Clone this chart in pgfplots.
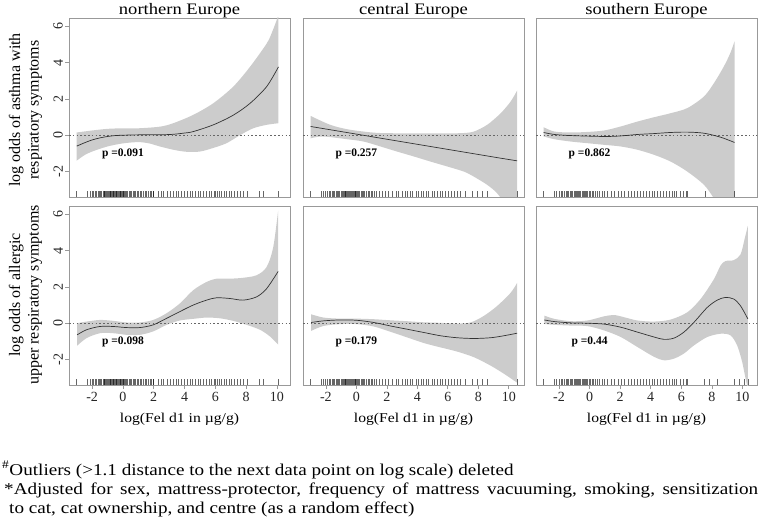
\documentclass[border=0pt]{standalone}
\usepackage{fontspec}
\setmainfont{Liberation Serif}
\usepackage{graphicx}
\usepackage{pgfplots}
\usepackage{pgfplotstable}
\pgfplotsset{compat=1.18}
\usepgfplotslibrary{fillbetween}

\pgfplotstableread[row sep=\\]{x y\\ -3.03 -3.25\\ -2.3 -3.25\\ -2.15 -3.25\\ -2.0 -3.25\\ -1.9 -3.25\\ -1.8 -3.25\\ -1.7 -3.25\\ -1.6 -3.25\\ -1.52 -3.25\\ -1.45 -3.25\\ -1.38 -3.25\\ -1.3 -3.25\\ -1.24 -3.25\\ -1.18 -3.25\\ -1.12 -3.25\\ -1.06 -3.25\\ -1.0 -3.25\\ -0.95 -3.25\\ -0.9 -3.25\\ -0.85 -3.25\\ -0.8 -3.25\\ -0.75 -3.25\\ -0.7 -3.25\\ -0.65 -3.25\\ -0.6 -3.25\\ -0.55 -3.25\\ -0.5 -3.25\\ -0.45 -3.25\\ -0.4 -3.25\\ -0.35 -3.25\\ -0.3 -3.25\\ -0.25 -3.25\\ -0.2 -3.25\\ -0.15 -3.25\\ -0.1 -3.25\\ -0.05 -3.25\\ 0 -3.25\\ 0.05 -3.25\\ 0.1 -3.25\\ 0.16 -3.25\\ 0.22 -3.25\\ 0.3 -3.25\\ 0.38 -3.25\\ 0.46 -3.25\\ 0.55 -3.25\\ 0.65 -3.25\\ 0.72 -3.25\\ 0.8 -3.25\\ 0.9 -3.25\\ 1.0 -3.25\\ 1.1 -3.25\\ 1.18 -3.25\\ 1.3 -3.25\\ 1.42 -3.25\\ 1.5 -3.25\\ 1.62 -3.25\\ 1.75 -3.25\\ 1.85 -3.25\\ 1.95 -3.25\\ 2.0 -3.25\\ 2.3 -3.25\\ 2.5 -3.25\\ 2.65 -3.25\\ 2.9 -3.25\\ 3.1 -3.25\\ 3.3 -3.25\\ 3.45 -3.25\\ 3.6 -3.25\\ 3.8 -3.25\\ 4.0 -3.25\\ 4.2 -3.25\\ 4.35 -3.25\\ 4.5 -3.25\\ 4.7 -3.25\\ 4.9 -3.25\\ 5.05 -3.25\\ 5.2 -3.25\\ 5.4 -3.25\\ 5.6 -3.25\\ 5.75 -3.25\\ 5.9 -3.25\\ 6.0 -3.25\\ 6.1 -3.25\\ 6.25 -3.25\\ 6.4 -3.25\\ 6.55 -3.25\\ 6.7 -3.25\\ 6.9 -3.25\\ 7.05 -3.25\\ 7.2 -3.25\\ 7.4 -3.25\\ 7.6 -3.25\\ 7.8 -3.25\\ 8.1 -3.25\\ 8.85 -3.25\\ 9.1 -3.25\\ 10.1 -3.25\\}\rugN

\pgfplotstableread[row sep=\\]{x y\\ -3.0 -3.25\\ -2.28 -3.25\\ -2.15 -3.25\\ -2.02 -3.25\\ -1.9 -3.25\\ -1.8 -3.25\\ -1.7 -3.25\\ -1.6 -3.25\\ -1.5 -3.25\\ -1.42 -3.25\\ -1.34 -3.25\\ -1.26 -3.25\\ -1.18 -3.25\\ -1.1 -3.25\\ -1.02 -3.25\\ -0.95 -3.25\\ -0.88 -3.25\\ -0.82 -3.25\\ -0.76 -3.25\\ -0.7 -3.25\\ -0.64 -3.25\\ -0.58 -3.25\\ -0.52 -3.25\\ -0.46 -3.25\\ -0.4 -3.25\\ -0.34 -3.25\\ -0.28 -3.25\\ -0.22 -3.25\\ -0.16 -3.25\\ -0.1 -3.25\\ -0.04 -3.25\\ 0.02 -3.25\\ 0.08 -3.25\\ 0.15 -3.25\\ 0.22 -3.25\\ 0.3 -3.25\\ 0.38 -3.25\\ 0.46 -3.25\\ 0.55 -3.25\\ 0.65 -3.25\\ 0.75 -3.25\\ 0.85 -3.25\\ 0.95 -3.25\\ 1.05 -3.25\\ 1.15 -3.25\\ 1.3 -3.25\\ 1.5 -3.25\\ 1.7 -3.25\\ 1.9 -3.25\\ 2.1 -3.25\\ 2.35 -3.25\\ 2.6 -3.25\\ 2.75 -3.25\\ 3.0 -3.25\\ 3.2 -3.25\\ 3.35 -3.25\\ 3.55 -3.25\\ 3.7 -3.25\\ 3.9 -3.25\\ 4.05 -3.25\\ 4.25 -3.25\\ 4.4 -3.25\\ 4.6 -3.25\\ 4.75 -3.25\\ 4.95 -3.25\\ 5.1 -3.25\\ 5.3 -3.25\\ 5.5 -3.25\\ 5.65 -3.25\\ 5.85 -3.25\\ 6.0 -3.25\\ 6.2 -3.25\\ 6.4 -3.25\\ 6.6 -3.25\\ 6.8 -3.25\\ 7.16 -3.25\\ 7.6 -3.25\\ 7.93 -3.25\\ 8.25 -3.25\\ 8.58 -3.25\\ 10.55 -3.25\\}\rugC

\pgfplotstableread[row sep=\\]{x y\\ -3.03 -3.25\\ -2.3 -3.25\\ -2.15 -3.25\\ -2.0 -3.25\\ -1.88 -3.25\\ -1.76 -3.25\\ -1.65 -3.25\\ -1.55 -3.25\\ -1.45 -3.25\\ -1.36 -3.25\\ -1.27 -3.25\\ -1.18 -3.25\\ -1.1 -3.25\\ -1.02 -3.25\\ -0.95 -3.25\\ -0.88 -3.25\\ -0.8 -3.25\\ -0.72 -3.25\\ -0.65 -3.25\\ -0.58 -3.25\\ -0.5 -3.25\\ -0.42 -3.25\\ -0.35 -3.25\\ -0.28 -3.25\\ -0.2 -3.25\\ -0.12 -3.25\\ -0.05 -3.25\\ 0.05 -3.25\\ 0.15 -3.25\\ 0.25 -3.25\\ 0.35 -3.25\\ 0.5 -3.25\\ 0.65 -3.25\\ 0.8 -3.25\\ 0.95 -3.25\\ 1.15 -3.25\\ 1.4 -3.25\\ 1.6 -3.25\\ 1.85 -3.25\\ 2.1 -3.25\\ 2.3 -3.25\\ 2.5 -3.25\\ 2.75 -3.25\\ 2.95 -3.25\\ 3.1 -3.25\\ 3.3 -3.25\\ 3.5 -3.25\\ 3.7 -3.25\\ 3.9 -3.25\\ 4.1 -3.25\\ 4.25 -3.25\\ 4.45 -3.25\\ 4.6 -3.25\\ 4.8 -3.25\\ 5.0 -3.25\\ 5.2 -3.25\\ 5.4 -3.25\\ 5.55 -3.25\\ 5.7 -3.25\\ 5.9 -3.25\\ 6.1 -3.25\\ 6.3 -3.25\\ 6.4 -3.25\\}\rugS

\pgfplotstableread[row sep=\\]{x y\\ 7.59 -3.25\\ 9.43 -3.25\\}\rugSa
\pgfplotstableread[row sep=\\]{x y\\ 7.48 -3.25\\ 7.85 -3.25\\ 8.35 -3.25\\ 9.48 -3.25\\ 9.76 -3.25\\ 10.13 -3.25\\ 10.35 -3.25\\}\rugSb

\newcommand{\tkfont}{\fontsize{14}{14}\selectfont}

\pgfplotsset{
  panel/.style={
    scale only axis, width=221pt, height=179pt,
    xmin=-3.5, ymin=-3.4, ymax=6.45,
    axis line style={black!40, line width=0.6pt},
    tick align=outside, major tick length=4pt,
    tick style={black!40, line width=0.6pt},
    /pgf/number format/assume math mode=true,
    xtick=\empty, ytick=\empty,
  },
  leftcol/.style={ytick={-2,0,2,4,6}, yticklabels={-2,0,2,4,6}, ytick pos=left,
    yticklabel style={font=\tkfont, text=black!85, rotate=90, anchor=south, inner sep=2pt}},
  botrow/.style={xtick={-2,0,2,4,6,8,10}, xticklabels={-2,0,2,4,6,8,10}, xtick pos=bottom,
    xticklabel style={font=\tkfont, text=black!85, inner sep=3pt}},
  band/.style={fill=black!20, draw=none},
  fit/.style={black!80, line width=0.7pt, smooth},
  zero/.style={black!60, line width=0.5pt, dash pattern=on 1.6pt off 2.2pt},
  rug/.style={only marks, mark=|, mark size=2.8pt,
    mark options={line width=0.5pt, black, opacity=0.6}},
}

\newcommand{\pv}[1]{\node[font=\bfseries\fontsize{11.5}{12}\selectfont] at (axis cs:0,-1.05) {#1};}
\newcommand{\hs}[1]{\scalebox{1.16}[1]{#1}}

\begin{document}
\begin{tikzpicture}

% ---------------- northern, asthma
\begin{axis}[panel, leftcol, at={(69pt,325pt)}, anchor=south west, xmax=10.85]
\addplot[name path=U, draw=none, smooth] coordinates {(-3,0.15) (-2,0.26) (-1,0.35) (0,0.38) (1,0.38) (2.4,0.47) (3.27,0.66) (4.57,1.12) (5.87,1.76) (7.16,2.67) (8.25,3.76) (9.33,5.04) (9.7,5.7) (10.1,6.6)};
\addplot[name path=L, draw=none, smooth] coordinates {(-3,-1.4) (-2.5,-1.1) (-2,-0.9) (-1,-0.62) (0,-0.45) (1,-0.38) (1.7,-0.45) (2.4,-0.62) (3.27,-0.8) (4.1,-0.91) (5.0,-0.9) (5.87,-0.7) (6.73,-0.44) (7.6,0.0) (8.46,0.38) (9.33,0.57) (10.1,0.66)};
\addplot[band] fill between[of=U and L];
\addplot[zero] coordinates {(-3.5,0) (11,0)};
\addplot[fit] coordinates {(-3,-0.6) (-2.5,-0.42) (-2,-0.26) (-1.5,-0.15) (-1,-0.07) (-0.5,-0.02) (0,0) (1,0.02) (2,0.02) (2.4,0.02) (3.27,0.05) (4,0.12) (4.57,0.2) (5.87,0.57) (7.16,1.1) (8.25,1.75) (9.33,2.67) (10.1,3.76)};
\addplot[rug] table[x=x, y=y] {\rugN};
\pv{p =0.091}
\end{axis}

% ---------------- central, asthma
\begin{axis}[panel, at={(303pt,325pt)}, anchor=south west, xmax=11.0]
\addplot[name path=U, draw=none, smooth] coordinates {(-3,1.06) (-1.71,0.57) (-0.61,0.33) (0.48,0.2) (1.58,0.12) (3.77,0.1) (5.96,0.1) (7.05,0.12) (7.71,0.2) (8.58,0.57) (9.46,1.2) (10.12,1.85) (10.55,2.46)};
\addplot[name path=L, draw=none, smooth] coordinates {(-3,-0.17) (-2.2,-0.07) (-0.61,-0.22) (0.48,-0.35) (1.58,-0.62) (2.67,-0.9) (3.77,-1.17) (4.86,-1.45) (5.96,-1.72) (7.05,-2.0) (7.71,-2.28) (8.58,-2.73) (9.24,-3.2) (9.9,-4.0) (10.55,-5.2)};
\addplot[band] fill between[of=U and L];
\addplot[zero] coordinates {(-3.5,0) (11,0)};
\addplot[fit] coordinates {(-3,0.48) (0,0.06) (3,-0.36) (6,-0.78) (9,-1.2) (10.55,-1.41)};
\addplot[rug] table[x=x, y=y] {\rugC};
\pv{p =0.257}
\end{axis}

% ---------------- southern, asthma
\begin{axis}[panel, at={(536pt,325pt)}, anchor=south west, xmax=10.95]
\addplot[name path=U, draw=none, smooth] coordinates {(-3,0.44) (-2.3,0.2) (-1.22,0.15) (-0.13,0.18) (0.96,0.26) (2.04,0.48) (3.13,0.75) (4.22,0.99) (5.3,1.21) (6.39,1.49) (7.48,2.13) (8.13,2.86) (8.78,3.78) (9.2,4.51) (9.48,5.16)};
\addplot[name path=L, draw=none, smooth] coordinates {(-3,-0.07) (-2.3,-0.22) (-1.22,-0.35) (-0.13,-0.44) (0.96,-0.53) (2.04,-0.62) (3.13,-0.8) (4.22,-1.08) (5.3,-1.45) (6.39,-2.0) (7.48,-2.73) (8.13,-3.47) (8.8,-4.4) (9.48,-5.6)};
\addplot[band] fill between[of=U and L];
\addplot[zero] coordinates {(-3.5,0) (11,0)};
\addplot[fit] coordinates {(-3,0.15) (-2.3,0.04) (-1.22,-0.02) (0.96,-0.07) (2.04,-0.04) (3.13,0.04) (4.22,0.09) (5.3,0.15) (6.39,0.17) (7.48,0.11) (8.57,-0.11) (9.48,-0.4)};
\addplot[rug] table[x=x, y=y] {\rugS};
\addplot[rug] table[x=x, y=y] {\rugSa};
\pv{p =0.862}
\end{axis}

% ---------------- northern, allergic
\begin{axis}[panel, leftcol, botrow, at={(69pt,137pt)}, anchor=south west, xmax=10.85]
\addplot[name path=U, draw=none, smooth] coordinates {(-2.97,0.0) (-2.36,0.09) (-1.49,0.18) (-0.63,0.13) (0.24,0.04) (1.1,0.04) (1.97,0.18) (2.84,0.55) (3.7,1.09) (4.57,1.82) (5.43,2.27) (6.08,2.45) (6.95,2.45) (7.81,2.5) (8.68,2.64) (9.33,3.09) (9.76,4.18) (10.08,6.2)};
\addplot[name path=L, draw=none, smooth] coordinates {(-2.97,-1.24) (-2.36,-0.82) (-1.49,-0.55) (-0.63,-0.55) (0.24,-0.64) (1.1,-0.64) (1.97,-0.45) (2.84,-0.09) (3.7,0.15) (4.57,0.24) (5.43,0.31) (6.3,0.27) (7.16,0.13) (8.03,-0.09) (8.9,-0.36) (9.55,-0.73) (10.08,-1.18)};
\addplot[band] fill between[of=U and L];
\addplot[zero] coordinates {(-3.5,0) (11,0)};
\addplot[fit] coordinates {(-2.97,-0.64) (-2.36,-0.36) (-1.49,-0.18) (-0.63,-0.18) (0.24,-0.24) (1.1,-0.24) (1.97,-0.09) (2.84,0.27) (3.7,0.64) (4.57,1.0) (5.43,1.27) (6.08,1.4) (6.95,1.36) (7.81,1.27) (8.68,1.45) (9.33,1.9) (10.08,2.85)};
\addplot[rug] table[x=x, y=y] {\rugN};
\pv{p =0.098}
\end{axis}

% ---------------- central, allergic
\begin{axis}[panel, botrow, at={(303pt,137pt)}, anchor=south west, xmax=11.0]
\addplot[name path=U, draw=none, smooth] coordinates {(-2.96,0.49) (-2.15,0.31) (-1.05,0.25) (0.04,0.25) (1.14,0.22) (2.23,0.16) (3.33,0.11) (4.42,0.05) (5.52,0.02) (6.61,-0.02) (7.49,0.04) (8.36,0.4) (9.24,0.95) (10.12,1.67) (10.55,2.22)};
\addplot[name path=L, draw=none, smooth] coordinates {(-2.96,-0.42) (-2.15,-0.15) (-1.05,-0.05) (0.04,-0.05) (1.14,-0.18) (2.23,-0.47) (3.33,-0.78) (4.42,-1.09) (5.52,-1.33) (6.61,-1.56) (7.71,-1.87) (8.8,-2.33) (9.68,-2.78) (10.33,-3.15) (10.55,-3.27)};
\addplot[band] fill between[of=U and L];
\addplot[zero] coordinates {(-3.5,0) (11,0)};
\addplot[fit] coordinates {(-2.96,0.04) (-2.15,0.13) (-1.05,0.18) (0.04,0.16) (1.14,0.04) (2.23,-0.15) (3.33,-0.33) (4.42,-0.51) (5.52,-0.69) (6.61,-0.8) (7.71,-0.84) (8.8,-0.8) (9.68,-0.69) (10.55,-0.55)};
\addplot[rug] table[x=x, y=y] {\rugC};
\pv{p =0.179}
\end{axis}

% ---------------- southern, allergic
\begin{axis}[panel, botrow, at={(536pt,137pt)}, anchor=south west, xmax=10.95]
\addplot[name path=U, draw=none, smooth] coordinates {(-2.96,0.42) (-2.3,0.24) (-1.22,0.11) (-0.13,0.15) (0.96,0.38) (1.61,0.45) (2.26,0.33) (3.13,0.15) (4.22,0.09) (5.3,0.2) (6.39,0.6) (7.26,1.33) (8.13,2.42) (8.57,3.18) (8.89,3.42) (9.43,3.47) (9.87,3.78) (10.13,4.6) (10.35,5.36)};
\addplot[name path=L, draw=none, smooth] coordinates {(-2.96,-0.04) (-2.3,-0.09) (-1.22,-0.13) (-0.13,-0.16) (0.96,-0.4) (2.04,-0.76) (3.13,-1.31) (4.22,-1.85) (4.87,-2.04) (5.52,-1.95) (6.17,-1.67) (6.83,-1.22) (7.7,-0.76) (8.57,-0.58) (9.22,-0.67) (9.65,-1.22) (9.98,-2.13) (10.2,-3.04) (10.35,-3.6)};
\addplot[band] fill between[of=U and L];
\addplot[zero] coordinates {(-3.5,0) (11,0)};
\addplot[fit] coordinates {(-2.96,0.18) (-2.3,0.09) (-1.22,0.02) (-0.13,0) (0.96,-0.05) (2.04,-0.22) (3.13,-0.49) (4.22,-0.76) (4.87,-0.89) (5.52,-0.82) (6.17,-0.49) (6.83,0.05) (7.7,0.87) (8.35,1.27) (8.89,1.42) (9.43,1.33) (9.87,0.96) (10.35,0.24)};
\addplot[rug] table[x=x, y=y] {\rugS};
\addplot[rug] table[x=x, y=y] {\rugSb};
\pv{p =0.44}
\end{axis}

% titles
\node[anchor=base, font=\fontsize{16}{16}\selectfont] at (179.5pt,507pt) {\hs{northern Europe}};
\node[anchor=base, font=\fontsize{16}{16}\selectfont] at (413.5pt,507pt) {\hs{central Europe}};
\node[anchor=base, font=\fontsize{16}{16}\selectfont] at (646.5pt,507pt) {\hs{southern Europe}};

% y labels
\node[rotate=90, align=center, font=\fontsize{16}{18.5}\selectfont] at (25.5pt,412pt) {log odds of asthma with\\respiratory symptoms};
\node[rotate=90, align=center, font=\fontsize{16}{18.5}\selectfont] at (25.5pt,227pt) {log odds of allergic\\upper respiratory symptoms};

% x labels
\node[anchor=base, font=\fontsize{13.5}{14}\selectfont] at (179.5pt,100pt) {\hs{log(Fel d1 in µg/g)}};
\node[anchor=base, font=\fontsize{13.5}{14}\selectfont] at (413.5pt,100pt) {\hs{log(Fel d1 in µg/g)}};
\node[anchor=base, font=\fontsize{13.5}{14}\selectfont] at (646.5pt,100pt) {\hs{log(Fel d1 in µg/g)}};

% footnotes
\node[anchor=base west, inner sep=0pt, font=\fontsize{16.5}{19}\selectfont] at (2pt,47pt) {\hs{\textsuperscript{\#}Outliers (>1.1 distance to the next data point on log scale) deleted}};
\node[anchor=base west, inner sep=0pt, font=\fontsize{16.5}{19}\selectfont] at (4pt,28pt) {\makebox[754pt][s]{\hs{*Adjusted}\ \hs{for}\ \hs{sex,}\ \hs{mattress-protector,}\ \hs{frequency}\ \hs{of}\ \hs{mattress}\ \hs{vacuuming,}\ \hs{smoking,}\ \hs{sensitization}}};
\node[anchor=base west, inner sep=0pt, font=\fontsize{16.5}{19}\selectfont] at (9pt,9pt) {\hs{to cat, cat ownership, and centre (as a random effect)}};

\pgfresetboundingbox
\path[use as bounding box] (0pt,0pt) rectangle (762pt,522pt);
\end{tikzpicture}
\end{document}
